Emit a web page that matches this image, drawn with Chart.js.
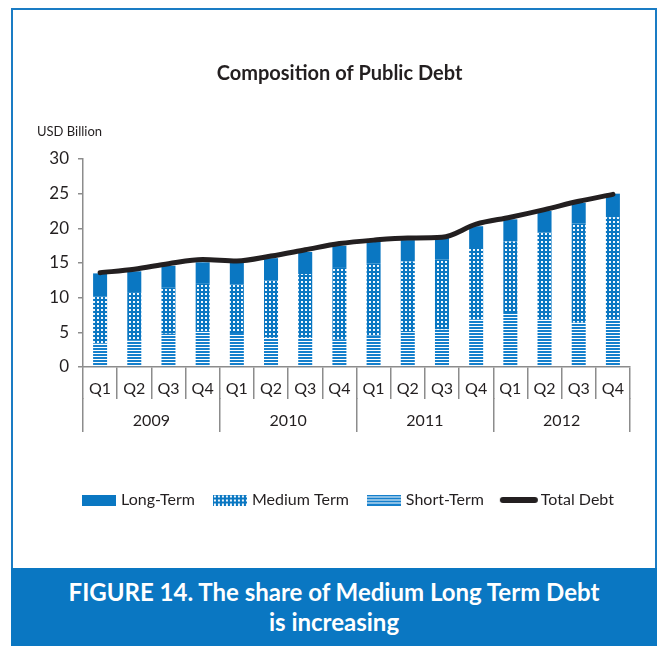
<!DOCTYPE html>
<html>
<head>
<meta charset="utf-8">
<script src="https://cdn.jsdelivr.net/npm/chart.js@4.4.1/dist/chart.umd.min.js"></script>
<style>
  html, body { margin: 0; padding: 0; background: #fff; }
  body { width: 659px; height: 646px; position: relative; overflow: hidden; font-family: Lato, sans-serif; }
  #frame { position: absolute; left: 11px; top: 8px; width: 646px; height: 638px; border: 2px solid #1a7cc4; border-bottom: none; box-sizing: border-box; }
  #chart { position: absolute; left: 0; top: 0; }
  #unit { position: absolute; left: 37px; top: 123px; font-size: 13px; color: #231f20; }
  #caption { position: absolute; left: 11px; top: 568px; width: 646px; height: 78px; background: #0a77c2; color: #fff;
    font-weight: bold; font-size: 24px; text-align: center; line-height: 30px; padding-top: 9px; box-sizing: border-box; }
</style>
</head>
<body>
<div id="frame"></div>
<canvas id="chart" width="659" height="560"></canvas>
<div id="unit">USD Billion</div>
<div id="caption">FIGURE 14. The share of Medium Long Term Debt<br>is increasing</div>
<script>
// data (USD billion)
const quarters = ['Q1', 'Q2', 'Q3', 'Q4'];
const years = ['2009', '2010', '2011', '2012'];
const shortTerm = [3.4, 3.8, 4.8, 5.2, 4.9, 4.2, 4.2, 4.0, 4.5, 5.0, 5.4, 6.8, 7.8, 6.9, 6.4, 6.9];
const mediumTerm = [6.8, 7.0, 6.7, 6.8, 7.0, 8.3, 9.2, 10.3, 10.4, 10.2, 10.1, 10.5, 10.3, 12.5, 14.3, 14.7];
const longTerm = [3.3, 3.0, 3.1, 3.1, 3.1, 3.2, 3.2, 3.2, 3.2, 3.1, 3.1, 3.0, 3.2, 3.1, 3.0, 3.4];
const totalDebt = [13.6, 14.1, 14.9, 15.5, 15.3, 16.0, 16.9, 17.8, 18.3, 18.6, 18.7, 20.6, 21.6, 22.7, 23.9, 24.9];

const quarterLabels = years.flatMap(() => quarters);

const BLUE = '#0a77c2';
const TEXT = '#231f20';
const AXIS = '#8c8c8c';
const FONT = 'Lato';

const canvas = document.getElementById('chart');
const ctx = canvas.getContext('2d');

// small repeating tiles for the hatched bars
function tile(w, h, draw) {
  const c = document.createElement('canvas');
  c.width = w; c.height = h;
  draw(c.getContext('2d'));
  return c;
}
const dotTile = tile(4, 4, g => {
  g.fillStyle = BLUE; g.fillRect(0, 0, 4, 4);
  g.fillStyle = '#f2f8fd'; g.fillRect(1, 1, 2, 2);
});
const stripeTile = tile(1, 3, g => {
  g.fillStyle = '#1580cc'; g.fillRect(0, 0, 1, 2);
  g.fillStyle = '#ffffff'; g.fillRect(0, 2, 1, 1);
});
const dotPattern = ctx.createPattern(dotTile, 'repeat');
const stripePattern = ctx.createPattern(stripeTile, 'repeat');

// legend swatches
function swatch(fill) {
  return tile(34, 11, g => {
    g.fillStyle = typeof fill === 'string' ? fill : g.createPattern(fill, 'repeat');
    g.fillRect(0, 0, 34, 11);
  });
}
const lineSwatch = tile(40, 8, g => {
  g.strokeStyle = TEXT; g.lineWidth = 6; g.lineCap = 'round';
  g.beginPath(); g.moveTo(4, 4); g.lineTo(36, 4); g.stroke();
});
const swatches = [swatch(stripeTile), swatch(dotTile), swatch(BLUE), lineSwatch];
const legendRank = [2, 1, 0, 3];

// nudge the legend row a little to the right, like the original
const legendShift = {
  id: 'legendShift',
  afterLayout(chart) {
    chart.legend.left += 10;
    chart.legend.right += 10;
  }
};

new Chart(ctx, {
  type: 'bar',
  data: {
    labels: quarterLabels,
    datasets: [
      { label: 'Short-Term', data: shortTerm, backgroundColor: stripePattern },
      { label: 'Medium Term', data: mediumTerm, backgroundColor: dotPattern },
      { label: 'Long-Term', data: longTerm, backgroundColor: BLUE },
      {
        type: 'line', label: 'Total Debt', data: totalDebt, stack: 'total', order: -1,
        borderColor: TEXT, borderWidth: 5, pointRadius: 0, borderCapStyle: 'round',
        cubicInterpolationMode: 'monotone', fill: false
      }
    ]
  },
  plugins: [legendShift],
  options: {
    responsive: false,
    animation: false,
    barPercentage: 0.41,
    categoryPercentage: 1,
    layout: { padding: { left: 49, right: 29, top: 0, bottom: 42 } },
    plugins: {
      tooltip: { enabled: false },
      title: {
        display: true, text: 'Composition of Public Debt', color: TEXT,
        font: { family: FONT, size: 20, weight: 'bold' },
        padding: { top: 62, bottom: 73 }
      },
      legend: {
        position: 'bottom',
        labels: {
          usePointStyle: true, pointStyleWidth: 28, padding: 21, color: TEXT,
          font: { family: FONT, size: 16 },
          sort: (a, b) => legendRank[a.datasetIndex] - legendRank[b.datasetIndex],
          generateLabels: chart => Chart.defaults.plugins.legend.labels.generateLabels(chart)
            .map(item => Object.assign(item, { pointStyle: swatches[item.datasetIndex] }))
        }
      }
    },
    scales: {
      x: {
        stacked: true, offset: true, weight: 0,
        border: { color: AXIS, width: 1.5 },
        grid: { offset: true, drawOnChartArea: false, color: AXIS, lineWidth: 1.5, tickLength: 32 },
        ticks: { color: TEXT, font: { family: FONT, size: 16 }, padding: -20, autoSkip: false, maxRotation: 0 },
        afterFit: s => { s.height = 31; }
      },
      x2: {
        type: 'category', labels: years, position: 'bottom', offset: true, weight: 1,
        border: { display: false },
        grid: { offset: true, drawOnChartArea: false, color: AXIS, lineWidth: 1.5, tickLength: 34 },
        ticks: { color: TEXT, font: { family: FONT, size: 16 }, padding: -21, maxRotation: 0 },
        afterFit: s => { s.height = 73; }
      },
      y: {
        stacked: true, min: 0, max: 30,
        border: { color: AXIS, width: 1.5 },
        grid: { drawOnChartArea: false, color: AXIS, lineWidth: 1.5, tickLength: 5 },
        ticks: { stepSize: 5, color: TEXT, font: { family: FONT, size: 17 }, padding: 9 },
        afterFit: s => { s.width = 34; }
      }
    }
  }
});
</script>
</body>
</html>
